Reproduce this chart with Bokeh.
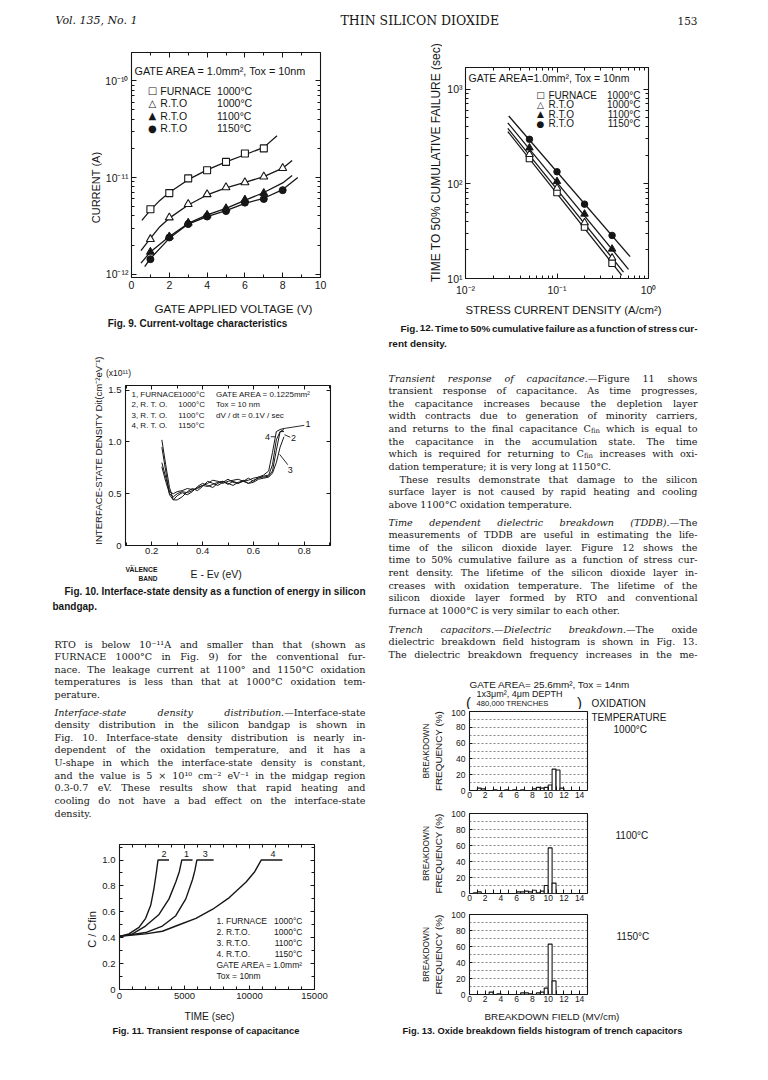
import math
import subprocess

from bokeh.core.properties import value
from bokeh.embed import file_html
from bokeh.layouts import column, row
from bokeh.models import FixedTicker, Label, LinearAxis, LogAxis, Range1d
from bokeh.plotting import figure
from bokeh.resources import INLINE

INK = "#161616"
SANS = "Liberation Sans"
SYM = "DejaVu Sans"

# ---------------- Fig. 9 : current vs gate voltage ----------------
fig9_v_furnace = [1, 2, 3, 4, 5, 6, 7]
fig9_i_furnace = [4.7e-12, 6.9e-12, 9.8e-12, 1.19e-11, 1.45e-11, 1.77e-11, 2.0e-11]
fig9_v_rto1000 = [1, 2, 3, 4, 5, 6, 7, 8]
fig9_i_rto1000 = [2.3e-12, 3.85e-12, 5.3e-12, 6.7e-12, 7.9e-12, 8.9e-12, 1.02e-11, 1.25e-11]
fig9_v_rto1100 = [1, 2, 3, 4, 5, 6, 7]
fig9_i_rto1100 = [1.7e-12, 2.45e-12, 3.4e-12, 4.1e-12, 4.8e-12, 5.9e-12, 6.9e-12]
fig9_v_rto1150 = [1, 2, 3, 4, 5, 6, 7, 8]
fig9_i_rto1150 = [1.43e-12, 2.4e-12, 3.3e-12, 3.95e-12, 4.5e-12, 5.5e-12, 6.0e-12, 7.4e-12]
fig9_fit_v_furnace = [0.55, 1, 1.5, 2, 3, 4, 5, 6, 7, 7.7]
fig9_fit_i_furnace = [3.6e-12, 4.6e-12, 5.8e-12, 7.0e-12, 9.5e-12, 1.2e-11, 1.45e-11, 1.72e-11, 2.05e-11, 2.7e-11]
fig9_fit_v_rto1000 = [0.5, 1, 1.5, 2, 3, 4, 5, 6, 7, 8, 8.5]
fig9_fit_i_rto1000 = [1.75e-12, 2.35e-12, 3.1e-12, 3.8e-12, 5.2e-12, 6.6e-12, 7.8e-12, 8.9e-12, 1.02e-11, 1.25e-11, 1.5e-11]
fig9_fit_v_rto1100 = [0.5, 1, 2, 3, 4, 5, 6, 7, 8, 8.5]
fig9_fit_i_rto1100 = [1.3e-12, 1.7e-12, 2.45e-12, 3.35e-12, 4.1e-12, 4.8e-12, 5.8e-12, 7.0e-12, 8.8e-12, 1.05e-11]
fig9_fit_v_rto1150 = [0.7, 1, 2, 3, 4, 5, 6, 7, 8, 8.8]
fig9_fit_i_rto1150 = [1.2e-12, 1.45e-12, 2.35e-12, 3.3e-12, 3.95e-12, 4.55e-12, 5.4e-12, 6.1e-12, 7.5e-12, 1.0e-11]
fig9_x_ticks = [0, 2, 4, 6, 8, 10]
fig9_x_minor = [1, 3, 5, 7, 9]
fig9_y_ticks = [1e-12, 1e-11, 1e-10]
fig9_y_tick_labels = ["10⁻¹²", "10⁻¹¹", "10⁻¹⁰"]
fig9_header = "GATE AREA = 1.0mm², Tox = 10nm"
legend_symbols = ["□", "△", "▲", "●"]
legend_names = ["FURNACE", "R.T.O", "R.T.O", "R.T.O"]
legend_temps = ["1000°C", "1000°C", "1100°C", "1150°C"]

# ---------------- Fig. 10 : interface-state density ----------------
fig10_e = [0.24, 0.255, 0.27, 0.285, 0.30, 0.32, 0.34, 0.36, 0.38, 0.40, 0.42, 0.44, 0.46, 0.48,
           0.50, 0.52, 0.54, 0.56, 0.58, 0.60, 0.62, 0.64, 0.66, 0.675, 0.69, 0.705, 0.72]
fig10_dit_1 = [0.76, 0.62, 0.50, 0.47, 0.50, 0.52, 0.51, 0.53, 0.56, 0.58, 0.60, 0.63, 0.62, 0.60,
               0.62, 0.63, 0.64, 0.62, 0.63, 0.65, 0.66, 0.66, 0.67, 0.72, 0.92, 1.10, 1.12]
fig10_dit_2 = [1.02, 0.78, 0.56, 0.44, 0.44, 0.47, 0.52, 0.55, 0.53, 0.57, 0.62, 0.60, 0.58, 0.61,
               0.64, 0.61, 0.60, 0.63, 0.60, 0.63, 0.65, 0.67, 0.68, 0.78, 1.02, 1.10, 1.10]
fig10_dit_3 = [0.80, 0.66, 0.52, 0.50, 0.52, 0.53, 0.55, 0.54, 0.55, 0.58, 0.57, 0.59, 0.61, 0.62,
               0.60, 0.58, 0.61, 0.62, 0.60, 0.61, 0.64, 0.65, 0.66, 0.70, 0.80, 0.95, 1.05]
fig10_dit_4 = [0.95, 0.72, 0.49, 0.44, 0.48, 0.51, 0.49, 0.52, 0.57, 0.60, 0.58, 0.56, 0.60, 0.62,
               0.59, 0.62, 0.60, 0.62, 0.65, 0.62, 0.66, 0.68, 0.72, 0.90, 1.10, 1.12, 1.13]
fig10_tags = ["4", "2", "1", "3"]
fig10_tag_e = [0.655, 0.758, 0.815, 0.745]
fig10_tag_dit = [1.05, 1.04, 1.17, 0.73]
fig10_leader_e0 = [0.668, 0.722, 0.720, 0.703]
fig10_leader_d0 = [1.05, 1.07, 1.13, 0.88]
fig10_leader_e1 = [0.688, 0.745, 0.800, 0.735]
fig10_leader_d1 = [1.05, 1.045, 1.16, 0.78]
fig10_x_ticks = [0.2, 0.4, 0.6, 0.8]
fig10_x_minor = [0.1, 0.3, 0.5, 0.7, 0.9]
fig10_y_ticks = [0.0, 0.5, 1.0, 1.5]
fig10_y_tick_labels = ["0", "0.5", "1.0", "1.5"]
fig10_legend_ids = ["1, FURNACE", "2, R. T. O.", "3, R. T. O.", "4, R. T. O."]
fig10_legend_temps = ["1000°C", "1000°C", "1100°C", "1150°C"]
fig10_conditions = ["GATE AREA = 0.1225mm²", "Tox = 10 nm", "dV / dt = 0.1V / sec"]

# ---------------- Fig. 11 : transient capacitance ----------------
fig11_t_1 = [0, 1000, 2000, 3040, 3810, 4330, 4600, 4790, 5620]
fig11_c_1 = [0.41, 0.43, 0.49, 0.58, 0.70, 0.83, 0.91, 1.00, 1.00]
fig11_t_2 = [0, 720, 1500, 2010, 2400, 2650, 2830, 2960, 3810]
fig11_c_2 = [0.41, 0.43, 0.48, 0.55, 0.65, 0.78, 0.90, 1.00, 1.00]
fig11_t_3 = [0, 2010, 3300, 4330, 5100, 5620, 5800, 5950, 7240]
fig11_c_3 = [0.41, 0.44, 0.49, 0.57, 0.70, 0.85, 0.92, 1.00, 1.00]
fig11_t_4 = [0, 2010, 3300, 4590, 5880, 7170, 8450, 9740, 10400, 10900, 12530]
fig11_c_4 = [0.41, 0.43, 0.45, 0.50, 0.55, 0.62, 0.71, 0.83, 0.91, 1.00, 1.00]
fig11_tags = ["2", "1", "3", "4"]
fig11_tag_t = [3430, 5150, 6600, 11800]
fig11_tag_c = [1.05, 1.05, 1.05, 1.05]
fig11_x_ticks = [0, 5000, 10000, 15000]
fig11_x_minor = [1000, 2000, 3000, 4000, 6000, 7000, 8000, 9000, 11000, 12000, 13000, 14000]
fig11_y_ticks = [0.0, 0.2, 0.4, 0.6, 0.8, 1.0]
fig11_y_minor = [0.1, 0.3, 0.5, 0.7, 0.9, 1.1]
fig11_y_tick_labels = ["0", "0.2", "0.4", "0.6", "0.8", "1.0"]
fig11_legend_ids = ["1. FURNACE", "2. R.T.O.", "3. R.T.O.", "4. R.T.O."]
fig11_legend_temps = ["1000°C", "1000°C", "1100°C", "1150°C"]
fig11_conditions = ["GATE AREA = 1.0mm²", "Tox = 10nm"]

# ---------------- Fig. 12 : TDDB ----------------
fig12_j = [0.05, 0.1, 0.2, 0.4]
fig12_t_furnace = [185, 81, 35, 14.5]
fig12_t_rto1000 = [205, 90, 39, 16.5]
fig12_t_rto1100 = [240, 106, 48, 20.5]
fig12_t_rto1150 = [295, 134, 61, 28.5]
fig12_fit_j_furnace = [0.029, 0.51]
fig12_fit_t_furnace = [356, 10.8]
fig12_fit_j_rto1000 = [0.029, 0.533]
fig12_fit_t_rto1000 = [385, 11.7]
fig12_fit_j_rto1100 = [0.029, 0.605]
fig12_fit_t_rto1100 = [440, 12.5]
fig12_fit_j_rto1150 = [0.0297, 0.63]
fig12_fit_t_rto1150 = [520, 17.0]
fig12_x_ticks = [0.01, 0.1, 1.0]
fig12_x_tick_labels = ["10⁻²", "10⁻¹", "10⁰"]
fig12_y_ticks = [10.0, 100.0, 1000.0]
fig12_y_tick_labels = ["10¹", "10²", "10³"]
fig12_header = "GATE AREA=1.0mm², Tox = 10nm"

# ---------------- Fig. 13 : breakdown histograms ----------------
fig13_bin_width = 0.5
fig13_left_1000 = [1.0, 1.5, 3.0, 4.5, 5.5, 6.5, 8.0, 8.5, 9.0, 9.5, 10.0, 10.5, 11.0, 11.5]
fig13_freq_1000 = [3, 2, 1, 1, 1, 1, 2, 4, 3, 4, 7, 27, 26, 3]
fig13_left_1100 = [0.5, 1.0, 6.0, 6.5, 7.0, 7.5, 8.0, 8.5, 9.0, 9.5, 10.0, 10.5]
fig13_freq_1100 = [1, 2, 2, 2, 3, 2, 4, 1, 3, 10, 57, 13]
fig13_left_1150 = [2.5, 3.5, 6.5, 7.0, 7.5, 8.5, 9.0, 9.5, 10.0, 10.5]
fig13_freq_1150 = [3, 1, 2, 2, 1, 2, 3, 8, 63, 17]
fig13_temps = ["1000°C", "1100°C", "1150°C"]
fig13_x_ticks = [0, 2, 4, 6, 8, 10, 12, 14]
fig13_x_minor = [1, 3, 5, 7, 9, 11, 13]
fig13_y_ticks = [0, 20, 40, 60, 80, 100]
fig13_grid = [10, 20, 30, 40, 50, 60, 70, 80, 90]

# ---------------- page text ----------------
HEADER = ["Vol. 135, No. 1", "THIN SILICON DIOXIDE", "153"]
CAP9 = "Fig. 9. Current-voltage characteristics"
CAP10 = ["Fig. 10. Interface-state density as a function of energy in silicon", "bandgap."]
CAP11 = "Fig. 11. Transient response of capacitance"
CAP12 = ["Fig. 12. Time to 50% cumulative failure as a function of stress cur-", "rent density."]
CAP13 = "Fig. 13. Oxide breakdown fields histogram of trench capacitors"
LEFT_P1 = [
    "RTO is below 10⁻¹¹A and smaller than that (shown as",
    "FURNACE 1000°C in Fig. 9) for the conventional fur-",
    "nace. The leakage current at 1100° and 1150°C oxidation",
    "temperatures is less than that at 1000°C oxidation tem-",
    "perature.",
]
LEFT_P2 = [
    "*Interface-state density distribution.*—Interface-state",
    "density distribution in the silicon bandgap is shown in",
    "Fig. 10. Interface-state density distribution is nearly in-",
    "dependent of the oxidation temperature, and it has a",
    "U-shape in which the interface-state density is constant,",
    "and the value is 5 × 10¹⁰ cm⁻² eV⁻¹ in the midgap region",
    "0.3-0.7 eV. These results show that rapid heating and",
    "cooling do not have a bad effect on the interface-state",
    "density.",
]
RIGHT_P1 = [
    "*Transient response of capacitance.*—Figure 11 shows",
    "transient response of capacitance. As time progresses,",
    "the capacitance increases because the depletion layer",
    "width contracts due to generation of minority carriers,",
    "and returns to the final capacitance C{fin} which is equal to",
    "the capacitance in the accumulation state. The time",
    "which is required for returning to C{fin} increases with oxi-",
    "dation temperature; it is very long at 1150°C.",
]
RIGHT_P2 = [
    "These results demonstrate that damage to the silicon",
    "surface layer is not caused by rapid heating and cooling",
    "above 1100°C oxidation temperature.",
]
RIGHT_P3 = [
    "*Time dependent dielectric breakdown (TDDB).*—The",
    "measurements of TDDB are useful in estimating the life-",
    "time of the silicon dioxide layer. Figure 12 shows the",
    "time to 50% cumulative failure as a function of stress cur-",
    "rent density. The lifetime of the silicon dioxide layer in-",
    "creases with oxidation temperature. The lifetime of the",
    "silicon dioxide layer formed by RTO and conventional",
    "furnace at 1000°C is very similar to each other.",
]
RIGHT_P4 = [
    "*Trench capacitors.—Dielectric breakdown.*—The oxide",
    "dielectric breakdown field histogram is shown in Fig. 13.",
    "The dielectric breakdown frequency increases in the me-",
]

# ================= font measuring =================
FONT_SPECS = {
    "serif": ("DejaVu Serif", "normal", "DejaVuSerif.ttf", "DejaVu Serif:style=Book", 0.56),
    "serif_i": ("DejaVu Serif", "italic", "DejaVuSerif-Italic.ttf", "DejaVu Serif:style=Italic", 0.53),
    "sans": ("Liberation Sans", "normal", "LiberationSans-Regular.ttf", "Liberation Sans:style=Regular", 0.52),
    "sans_b": ("Liberation Sans", "bold", "LiberationSans-Bold.ttf", "Liberation Sans:style=Bold", 0.56),
}
_fonts = {}


def _font(key):
    if key in _fonts:
        return _fonts[key]
    f = None
    try:
        from PIL import ImageFont
        fname, pat = FONT_SPECS[key][2], FONT_SPECS[key][3]
        try:
            f = ImageFont.truetype(fname, 100)
        except Exception:
            f = None
        if f is None:
            try:
                path = subprocess.run(["fc-match", "-f", "%{file}", pat], capture_output=True,
                                      text=True, timeout=10).stdout.strip()
                if path:
                    f = ImageFont.truetype(path, 100)
            except Exception:
                f = None
    except Exception:
        f = None
    _fonts[key] = f
    return f


def tw(text, key, size):
    f = _font(key)
    if f is not None:
        try:
            return f.getlength(text) * size / 100.0
        except Exception:
            pass
    return len(text) * size * FONT_SPECS[key][4]


def fit(text, key, target, cap=99.0):
    return min(cap, 100.0 * target / max(1.0, tw(text, key, 100.0)))


def no_align(p):
    try:
        p.frame_align = False
    except Exception:
        pass


class Sink:
    def __init__(self):
        self.groups = {}

    def add(self, x, y, text, key, size, align="left", baseline="alphabetic", angle=0.0):
        fam, sty = FONT_SPECS[key][0], FONT_SPECS[key][1]
        g = self.groups.setdefault((fam, sty, round(size, 2), align, baseline, angle), ([], [], []))
        g[0].append(x)
        g[1].append(y)
        g[2].append(text)

    def render(self, p):
        for (fam, sty, size, align, baseline, angle), (xs, ys, ts) in self.groups.items():
            p.text(x=xs, y=ys, text=ts, angle=angle, text_font=value(fam), text_font_style=value(sty),
                   text_font_size=value(f"{size}px"), text_align=value(align),
                   text_baseline=value(baseline), text_color=INK)


def parse_tokens(line):
    runs, buf, mode = [], [], "n"
    for ch in line:
        if ch in "*{}":
            if buf:
                runs.append(("".join(buf), mode))
                buf = []
            if ch == "*":
                mode = "n" if mode == "i" else "i"
            elif ch == "{":
                mode = "s"
            else:
                mode = "n"
        else:
            buf.append(ch)
    if buf:
        runs.append(("".join(buf), mode))
    toks = [[]]
    for text, kind in runs:
        parts = text.split(" ")
        for j, part in enumerate(parts):
            if j > 0:
                toks.append([])
            if part:
                toks[-1].append((part, kind))
    return [t for t in toks if t]


def piece_w(text, kind, size, reg, ita):
    if kind == "i":
        return tw(text, ita, size)
    if kind == "s":
        return tw(text, reg, size * 0.72)
    return tw(text, reg, size)


def line_size(line, avail, size, reg, ita, justify):
    toks = parse_tokens(line)
    ws = sum(sum(piece_w(t, k, size, reg, ita) for t, k in tok) for tok in toks)
    sp = tw(" ", reg, size) * (0.55 if justify else 1.0)
    need = ws + sp * (len(toks) - 1)
    return size * avail / need if need > avail else size


def set_line(sink, x0, x1, y, line, size, justify, reg, ita, shrink=True):
    toks = parse_tokens(line)
    if shrink:
        size = line_size(line, x1 - x0, size, reg, ita, justify)
    ws = [sum(piece_w(t, k, size, reg, ita) for t, k in tok) for tok in toks]
    n = len(toks)
    gap = (x1 - x0 - sum(ws)) / (n - 1) if (justify and n > 1) else tw(" ", reg, size)
    x = x0
    for tok, w in zip(toks, ws):
        px = x
        for t, k in tok:
            if k == "s":
                sink.add(px, y + size * 0.22, t, reg, size * 0.72)
            else:
                sink.add(px, y, t, ita if k == "i" else reg, size)
            px += piece_w(t, k, size, reg, ita)
        x += w + gap


def para(sink, x_first, x_left, x_right, y0, lh, lines, size, reg="serif", ita="serif_i",
         last_justify=False, uniform=False):
    if uniform:
        size = min(line_size(l, x_right - (x_first if i == 0 else x_left), size, reg, ita,
                             i < len(lines) - 1 or last_justify) for i, l in enumerate(lines))
    for i, l in enumerate(lines):
        just = i < len(lines) - 1 or last_justify
        set_line(sink, x_first if i == 0 else x_left, x_right, y0 + i * lh, l, size, just, reg, ita,
                 shrink=not uniform)


def text_fig(x0, y0, x1, y1):
    p = figure(width=x1 - x0, height=y1 - y0, x_range=Range1d(x0, x1), y_range=Range1d(y1, y0),
               output_backend="svg", toolbar_location=None, title=None, min_border=0,
               x_axis_location=None, y_axis_location=None)
    p.grid.visible = False
    p.outline_line_color = None
    no_align(p)
    return p


# ================= chart helpers =================
class Geo:
    def __init__(self, fx0, fx1, fy0, fy1, xr, yr, xlog=False, ylog=False):
        self.fx0, self.fx1, self.fy0, self.fy1 = fx0, fx1, fy0, fy1
        self.xr, self.yr, self.xlog, self.ylog = xr, yr, xlog, ylog

    @staticmethod
    def _map(t, r, log):
        if log:
            a, b = math.log10(r[0]), math.log10(r[1])
            return 10 ** (a + t * (b - a))
        return r[0] + t * (r[1] - r[0])

    def x(self, px):
        return self._map((px - self.fx0) / (self.fx1 - self.fx0), self.xr, self.xlog)

    def y(self, py):
        return self._map((self.fy1 - py) / (self.fy1 - self.fy0), self.yr, self.ylog)


def chart(x0, y0, x1, y1, g):
    p = figure(width=x1 - x0, height=y1 - y0, x_range=Range1d(g.xr[0], g.xr[1]),
               y_range=Range1d(g.yr[0], g.yr[1]),
               x_axis_type="log" if g.xlog else "linear", y_axis_type="log" if g.ylog else "linear",
               output_backend="svg", toolbar_location=None, title=None,
               min_border_left=g.fx0 - x0, min_border_right=x1 - g.fx1,
               min_border_top=g.fy0 - y0, min_border_bottom=y1 - g.fy1)
    p.grid.visible = False
    p.outline_line_color = INK
    p.outline_line_width = 1.1
    no_align(p)
    return p


def style_ax(ax, fs, standoff, tin, tmin):
    ax.major_tick_in = tin
    ax.major_tick_out = 0
    ax.minor_tick_in = tmin
    ax.minor_tick_out = 0
    ax.axis_line_color = None
    ax.major_tick_line_color = INK
    ax.minor_tick_line_color = INK
    ax.major_label_text_font = SANS
    ax.major_label_text_font_size = f"{fs}px"
    ax.major_label_text_color = INK
    ax.major_label_standoff = standoff


def setup_axes(p, xt, xm, yt, ym, xlab=None, ylab=None, fs=11, xstand=3, ystand=5, tin=5, tmin=3,
               mirror=True, xlog=False, ylog=False, xtin=None, xtmin=None):
    p.xaxis[0].ticker = FixedTicker(ticks=xt, minor_ticks=xm)
    p.yaxis[0].ticker = FixedTicker(ticks=yt, minor_ticks=ym)
    if xlab:
        p.xaxis[0].major_label_overrides = xlab
    if ylab:
        p.yaxis[0].major_label_overrides = ylab
    style_ax(p.xaxis[0], fs, xstand, tin if xtin is None else xtin, tmin if xtmin is None else xtmin)
    style_ax(p.yaxis[0], fs, ystand, tin, tmin)
    if mirror:
        for side, t, m, log in (("above", xt, xm, xlog), ("right", yt, ym, ylog)):
            cls = LogAxis if log else LinearAxis
            ax = cls(ticker=FixedTicker(ticks=t, minor_ticks=m), major_label_overrides={v: "" for v in t})
            style_ax(ax, 0, 0, tin, tmin)
            p.add_layout(ax, side)


def lab(p, g, px, py, text, size, font=SANS, style="normal", align="left", baseline="middle"):
    p.add_layout(Label(x=g.x(px), y=g.y(py), text=text, text_font=font, text_font_size=f"{size:.2f}px",
                       text_font_style=style, text_align=align, text_baseline=baseline, text_color=INK))


def log_minor(lo, hi):
    out = []
    e = math.floor(math.log10(lo)) - 1
    while 10 ** e <= hi:
        for k in range(2, 10):
            v = k * 10.0 ** e
            if lo < v < hi:
                out.append(v)
        e += 1
    return out


ROT = math.pi / 2

# ================= header =================
hdr = text_fig(8, 8, 760, 36)
s = Sink()
s.add(63, 28, HEADER[0], "serif_i", fit(HEADER[0], "serif_i", 82, 12))
s.add(348, 28, HEADER[1], "serif", fit(HEADER[1], "serif", 176, 12.5))
s.add(705, 28, HEADER[2], "serif", fit(HEADER[2], "serif", 20, 12), align="right")
s.render(hdr)

# ================= Fig. 9 =================
t_a = text_fig(8, 36, 110, 302)
s = Sink()
s.add(103, 195, "CURRENT (A)", "sans", 11, align="center", baseline="middle", angle=ROT)
s.render(t_a)

g9 = Geo(138, 328, 60, 285, (0.0, 10.0), (10 ** -12.034, 10 ** -9.707), ylog=True)
f9 = chart(110, 36, 386, 302, g9)
setup_axes(f9, fig9_x_ticks, fig9_x_minor, fig9_y_ticks, log_minor(*g9.yr),
           ylab=dict(zip(fig9_y_ticks, fig9_y_tick_labels)), fs=10.5, xstand=3, ystand=3, ylog=True)
for xs, ys in ((fig9_fit_v_furnace, fig9_fit_i_furnace), (fig9_fit_v_rto1000, fig9_fit_i_rto1000),
               (fig9_fit_v_rto1100, fig9_fit_i_rto1100), (fig9_fit_v_rto1150, fig9_fit_i_rto1150)):
    f9.line(xs, ys, line_width=1.3, color=INK)
f9.scatter(fig9_v_furnace, fig9_i_furnace, marker="square", size=7, fill_color="white", line_color=INK, line_width=1.1)
f9.scatter(fig9_v_rto1000, fig9_i_rto1000, marker="triangle", size=8, fill_color="white", line_color=INK, line_width=1.1)
f9.scatter(fig9_v_rto1100, fig9_i_rto1100, marker="triangle", size=8, fill_color=INK, line_color=INK)
f9.scatter(fig9_v_rto1150, fig9_i_rto1150, marker="circle", size=7, fill_color=INK, line_color=INK)
lab(f9, g9, 141, 78, fig9_header, fit(fig9_header, "sans", 171, 12))
for i, yy in enumerate([98, 110.5, 123, 135.5]):
    lab(f9, g9, 159, yy, legend_symbols[i], 10, font=SYM, align="center")
    lab(f9, g9, 167, yy, legend_names[i], 10.5)
    lab(f9, g9, 224, yy, legend_temps[i], 10.5)

t_b = text_fig(8, 302, 386, 345)
s = Sink()
s.add(162, 316, "GATE APPLIED VOLTAGE (V)", "sans", fit("GATE APPLIED VOLTAGE (V)", "sans", 158, 12.5))
s.add(205, 330.5, CAP9, "sans_b", fit(CAP9, "sans_b", 180, 10), align="center")
s.render(t_b)

# ================= Fig. 10 =================
t_c = text_fig(8, 345, 113, 567)
s = Sink()
ytitle10 = "INTERFACE-STATE DENSITY Dit(cm⁻²eV⁻¹)"
s.add(106, 458, ytitle10, "sans", fit(ytitle10, "sans", 197, 11), align="center", baseline="middle", angle=ROT)
s.render(t_c)

t_c2 = text_fig(113, 345, 386, 388)
s = Sink()
s.add(126, 380, "(x10¹¹)", "sans", 8.5, align="center", baseline="middle")
s.render(t_c2)

g10 = Geo(132, 338, 393, 553, (0.097, 0.903), (0.0, 1.545))
f10 = chart(113, 388, 386, 567, g10)
setup_axes(f10, fig10_x_ticks, fig10_x_minor, fig10_y_ticks, [],
           ylab=dict(zip(fig10_y_ticks, fig10_y_tick_labels)), fs=9.5, xstand=2, ystand=4, tin=4, tmin=3)
for ys in (fig10_dit_1, fig10_dit_2, fig10_dit_3, fig10_dit_4):
    f10.line(fig10_e, ys, line_width=1.0, color=INK)
f10.segment(x0=fig10_leader_e0, y0=fig10_leader_d0, x1=fig10_leader_e1, y1=fig10_leader_d1, line_width=0.9, color=INK)
f10.text(x=fig10_tag_e, y=fig10_tag_dit, text=fig10_tags, text_font=value(SANS), text_font_size=value("9px"),
         text_align=value("center"), text_baseline=value("middle"), text_color=INK)
cs10 = fit(fig10_conditions[0], "sans", 94, 8)
for i, yy in enumerate([402, 412.3, 422.6, 433]):
    lab(f10, g10, 138, yy, fig10_legend_ids[i], cs10)
    lab(f10, g10, 185, yy, fig10_legend_temps[i], cs10)
    if i < 3:
        lab(f10, g10, 223, yy, fig10_conditions[i], cs10)

# ================= left text block =================
t_d = text_fig(8, 567, 386, 845)
s = Sink()
s.add(136, 571.5, "←", "sans", 8, baseline="middle")
s.add(133, 576.5, "VALENCE", "sans_b", fit("VALENCE", "sans_b", 32, 8))
s.add(146, 585.5, "BAND", "sans_b", fit("BAND", "sans_b", 19, 8))
s.add(198, 581.5, "E - Ev (eV)", "sans", fit("E - Ev (eV)", "sans", 52, 10.5))
para(s, 72, 60, 373, 598.5, 15, CAP10, 10, reg="sans_b", ita="sans_b", uniform=True)
para(s, 62, 62, 373, 651.5, 12.63, LEFT_P1, 9.6)
para(s, 62, 62, 373, 719.5, 12.65, LEFT_P2, 9.6)
s.render(t_d)

# ================= Fig. 11 =================
t_e = text_fig(8, 845, 106, 1012)
s = Sink()
s.add(99, 937, "C / Cfin", "sans", 11, align="center", baseline="middle", angle=ROT)
s.render(t_e)

g11 = Geo(127, 322, 852, 997, (0.0, 15000.0), (0.0, 1.12))
f11 = chart(106, 845, 386, 1012, g11)
setup_axes(f11, fig11_x_ticks, fig11_x_minor, fig11_y_ticks, fig11_y_minor,
           ylab=dict(zip(fig11_y_ticks, fig11_y_tick_labels)), fs=9.5, xstand=3, ystand=4, tin=4, tmin=3)
for xs, ys in ((fig11_t_1, fig11_c_1), (fig11_t_2, fig11_c_2), (fig11_t_3, fig11_c_3), (fig11_t_4, fig11_c_4)):
    f11.line(xs, ys, line_width=1.4, color=INK)
f11.text(x=fig11_tag_t, y=fig11_tag_c, text=fig11_tags, text_font=value(SANS), text_font_size=value("9px"),
         text_align=value("center"), text_baseline=value("middle"), text_color=INK)
cs11 = fit(fig11_conditions[0], "sans", 88, 8.5)
rows11 = [928, 939, 950, 961, 972, 983]
for i in range(4):
    lab(f11, g11, 224, rows11[i], fig11_legend_ids[i], cs11)
    lab(f11, g11, 310, rows11[i], fig11_legend_temps[i], cs11, align="right")
lab(f11, g11, 224, rows11[4], fig11_conditions[0], cs11)
lab(f11, g11, 224, rows11[5], fig11_conditions[1], cs11)

t_f = text_fig(8, 1012, 386, 1072)
s = Sink()
s.add(217, 1024, "TIME (sec)", "sans", fit("TIME (sec)", "sans", 50, 11), align="center")
s.add(213.5, 1038.5, CAP11, "sans_b", fit(CAP11, "sans_b", 187, 10), align="center")
s.render(t_f)

# ================= Fig. 12 =================
t_g = text_fig(386, 36, 450, 306)
s = Sink()
ytitle12 = "TIME TO 50% CUMULATIVE FAILURE (sec)"
s.add(443, 170, ytitle12, "sans", fit(ytitle12, "sans", 240, 12), align="center", baseline="middle", angle=ROT)
s.render(t_g)

g12 = Geo(473, 656, 75, 287, (0.01, 1.0), (10.0, 10 ** 3.228), xlog=True, ylog=True)
f12 = chart(450, 36, 760, 306, g12)
setup_axes(f12, fig12_x_ticks, log_minor(*g12.xr), fig12_y_ticks, log_minor(*g12.yr),
           xlab=dict(zip(fig12_x_ticks, fig12_x_tick_labels)), ylab=dict(zip(fig12_y_ticks, fig12_y_tick_labels)),
           fs=10.5, xstand=5, ystand=3, tin=5, tmin=3, xlog=True, ylog=True)
for xs, ys in ((fig12_fit_j_furnace, fig12_fit_t_furnace), (fig12_fit_j_rto1000, fig12_fit_t_rto1000),
               (fig12_fit_j_rto1100, fig12_fit_t_rto1100), (fig12_fit_j_rto1150, fig12_fit_t_rto1150)):
    f12.line(xs, ys, line_width=1.3, color=INK)
f12.scatter(fig12_j, fig12_t_furnace, marker="square", size=6.5, fill_color="white", line_color=INK, line_width=1.1)
f12.scatter(fig12_j, fig12_t_rto1000, marker="triangle", size=7.5, fill_color="white", line_color=INK, line_width=1.1)
f12.scatter(fig12_j, fig12_t_rto1100, marker="triangle", size=7.5, fill_color=INK, line_color=INK)
f12.scatter(fig12_j, fig12_t_rto1150, marker="circle", size=6.5, fill_color=INK, line_color=INK)
lab(f12, g12, 476, 86, fig12_header, fit(fig12_header, "sans", 161, 11))
for i, yy in enumerate([103, 112.5, 122, 131.5]):
    lab(f12, g12, 548, yy, legend_symbols[i], 9, font=SYM, align="center")
    lab(f12, g12, 556, yy, legend_names[i], 10)
    lab(f12, g12, 648, yy, legend_temps[i], 10, align="right")

# ================= right text block =================
t_h = text_fig(386, 306, 760, 676)
s = Sink()
xtitle12 = "STRESS CURRENT DENSITY (A/cm²)"
s.add(473, 317, xtitle12, "sans", fit(xtitle12, "sans", 196, 12.5))
para(s, 408, 396, 705, 335.5, 15, CAP12, 10, reg="sans_b", ita="sans_b", uniform=True)
para(s, 396, 396, 705, 385.5, 12.63, RIGHT_P1, 9.6)
para(s, 407, 396, 705, 486.5, 12.63, RIGHT_P2, 9.6)
para(s, 396, 396, 705, 529.5, 12.6, RIGHT_P3, 9.6)
para(s, 396, 396, 705, 636.5, 12.6, RIGHT_P4, 9.6, last_justify=True)
s.render(t_h)


# ================= Fig. 13 =================
def hist_panel(y0, y1, fy0, fy1, lefts, freqs):
    g = Geo(477, 595, fy0, fy1, (0.0, 15.0), (0.0, 100.0))
    p = chart(386, y0, 597, y1, g)
    setup_axes(p, fig13_x_ticks, fig13_x_minor, fig13_y_ticks, [], fs=8.5, xstand=1, ystand=4,
               tin=3, tmin=3, mirror=False, xtin=4, xtmin=4)
    p.ygrid.visible = True
    p.ygrid.ticker = FixedTicker(ticks=fig13_grid)
    p.ygrid.grid_line_color = "#555555"
    p.ygrid.grid_line_dash = "2 2"
    p.ygrid.grid_line_width = 0.7
    p.quad(left=lefts, right=[v + fig13_bin_width for v in lefts], bottom=0, top=freqs,
           fill_color="white", line_color=INK, line_width=1.1)
    ya = p.yaxis[0]
    ya.axis_label = "FREQUENCY (%)"
    ya.axis_label_text_font = SANS
    ya.axis_label_text_font_style = "normal"
    ya.axis_label_text_font_size = f"{fit('FREQUENCY (%)', 'sans', 80, 10):.2f}px"
    ya.axis_label_text_color = INK
    ya.axis_label_standoff = 4
    extra = LinearAxis(ticker=FixedTicker(ticks=[]), axis_label="BREAKDOWN", axis_line_color=None,
                       major_tick_in=0, major_tick_out=0, minor_tick_in=0, minor_tick_out=0,
                       major_label_text_font_size="0px", major_label_standoff=0,
                       axis_label_standoff=0, axis_label_text_font=SANS, axis_label_text_font_style="normal",
                       axis_label_text_font_size=f"{fit('BREAKDOWN', 'sans', 55, 10):.2f}px",
                       axis_label_text_color=INK)
    p.add_layout(extra, "left")
    return p, g


tsz = fit("TEMPERATURE", "sans", 75, 11)

# header block above the 1000 °C panel (text kept clear of the block's lower edge)
t_i = text_fig(386, 676, 760, 717)
s = Sink()
hdr13 = "GATE AREA= 25.6mm², Tox = 14nm"
s.add(477, 692, hdr13, "sans", fit(hdr13, "sans", 160, 11))
s.add(476, 710, "(", "sans", 15, align="center")
s.add(587, 710, ")", "sans", 15, align="center")
s.add(484, 701.5, "1x3μm², 4μm DEPTH", "sans", fit("1x3μm², 4μm DEPTH", "sans", 92, 9))
s.add(484, 710.5, "480,000 TRENCHES", "sans", fit("480,000 TRENCHES", "sans", 72, 9))
s.add(599, 710.5, "OXIDATION", "sans", tsz)
s.render(t_i)

p13a, g13a = hist_panel(717, 811, 719, 798, fig13_left_1000, fig13_freq_1000)

t_r1 = text_fig(597, 717, 760, 811)
s = Sink()
s.add(599, 725, "TEMPERATURE", "sans", tsz)
s.add(621, 737, fig13_temps[0], "sans", tsz)
s.render(t_r1)

p13b, g13b = hist_panel(811, 913, 821, 901, fig13_left_1100, fig13_freq_1100)
t_r2 = text_fig(597, 811, 760, 913)
s = Sink()
s.add(623, 843, fig13_temps[1], "sans", tsz)
s.render(t_r2)

p13c, g13c = hist_panel(913, 1014, 922, 1002, fig13_left_1150, fig13_freq_1150)
t_r3 = text_fig(597, 913, 760, 1014)
s = Sink()
s.add(624, 944, fig13_temps[2], "sans", tsz)
s.render(t_r3)

t_j = text_fig(386, 1014, 760, 1072)
s = Sink()
xt13 = "BREAKDOWN FIELD (MV/cm)"
s.add(492, 1024, xt13, "sans", fit(xt13, "sans", 135, 11))
s.add(550, 1038.5, CAP13, "sans_b", fit(CAP13, "sans_b", 280, 10), align="center")
s.render(t_j)

# ================= layout =================
left = column(
    row(t_a, f9, spacing=0),
    t_b,
    row(t_c, column(t_c2, f10, spacing=0), spacing=0),
    t_d,
    row(t_e, f11, spacing=0),
    t_f,
    spacing=0,
)
right = column(
    row(t_g, f12, spacing=0),
    t_h,
    t_i,
    row(p13a, t_r1, spacing=0),
    row(p13b, t_r2, spacing=0),
    row(p13c, t_r3, spacing=0),
    t_j,
    spacing=0,
)
page = column(hdr, row(left, right, spacing=0), spacing=0)

with open("out.html", "w") as fh:
    fh.write(file_html(page, INLINE, title="Thin silicon dioxide"))
